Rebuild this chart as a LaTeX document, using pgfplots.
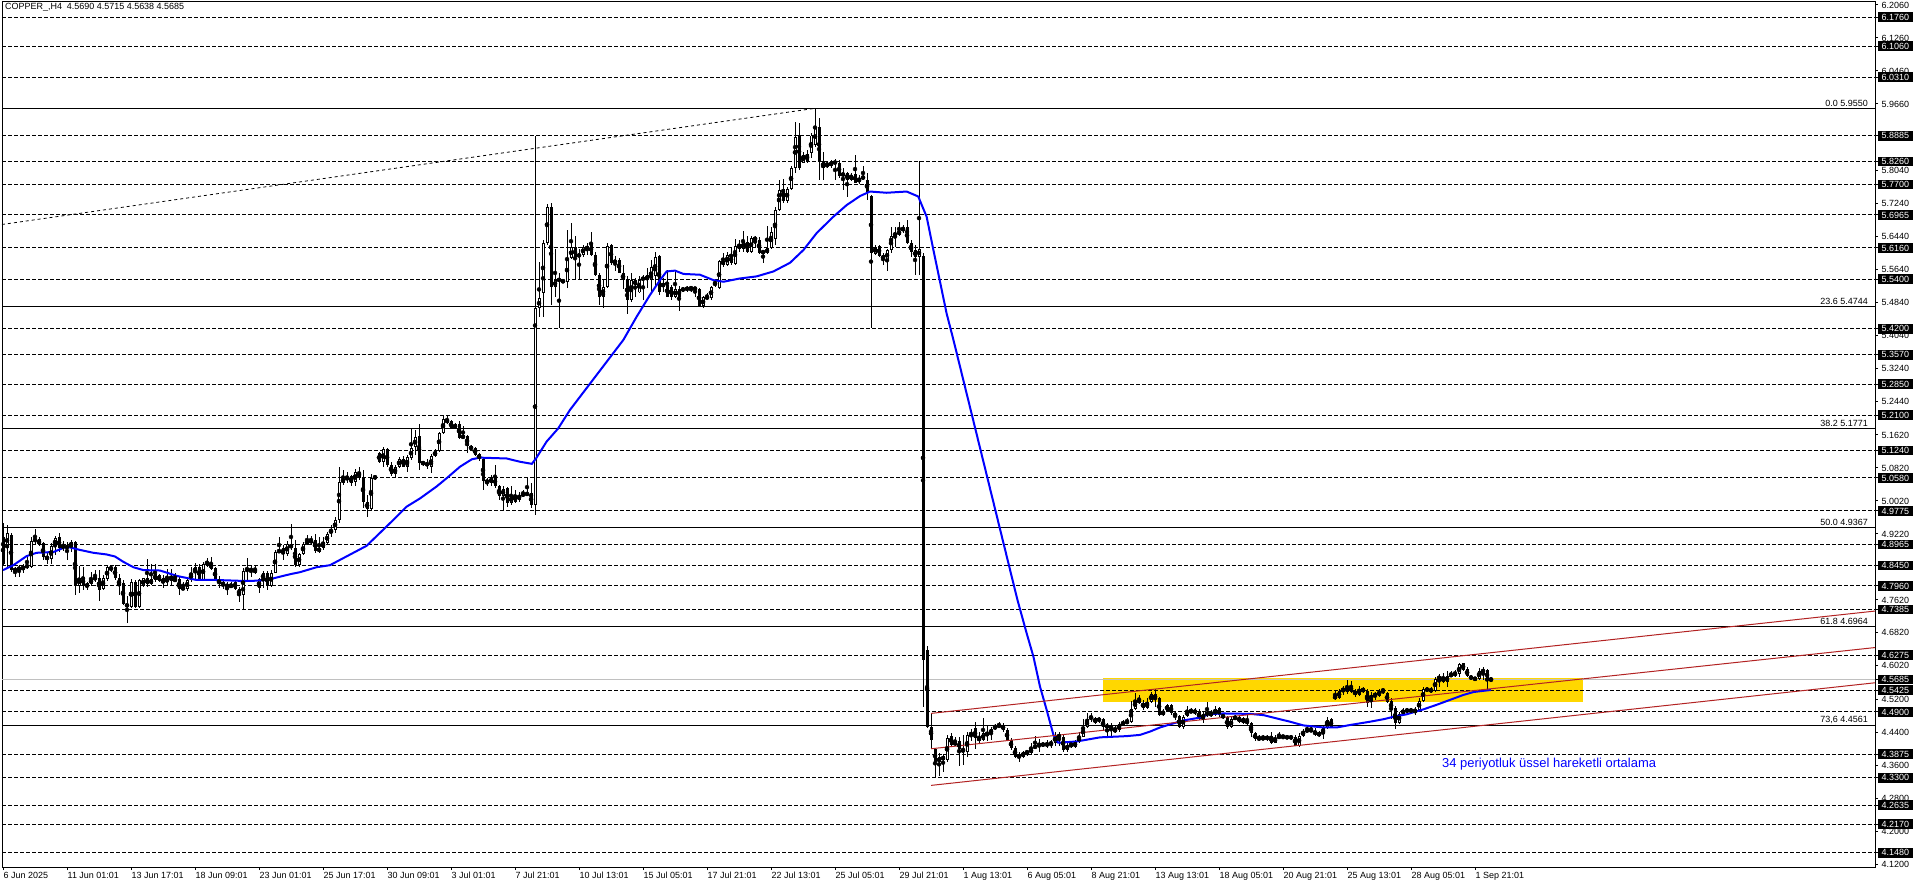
\documentclass[border=0pt]{standalone}
\usepackage{fontspec}
\setmainfont{Liberation Sans}
\usepackage{pgfplots}
\usepackage{pgfplotstable}
\pgfplotsset{compat=1.18}
\definecolor{gold}{RGB}{255,215,0}
\definecolor{chan}{RGB}{178,34,34}
\definecolor{bidgray}{RGB}{192,192,192}
\newcommand\tf{\fontsize{9}{10}\selectfont}
\pgfplotstableread{
i o h l c
0 4.915 4.948 4.846 4.850
1 4.887 4.943 4.841 4.925
2 4.919 4.923 4.830 4.834
3 4.836 4.841 4.818 4.833
4 4.834 4.846 4.818 4.841
5 4.834 4.850 4.828 4.844
6 4.841 4.871 4.836 4.846
7 4.841 4.914 4.838 4.905
8 4.905 4.935 4.895 4.909
9 4.909 4.914 4.893 4.895
10 4.899 4.903 4.858 4.865
11 4.865 4.879 4.849 4.862
12 4.860 4.899 4.849 4.893
13 4.893 4.917 4.871 4.911
14 4.914 4.923 4.879 4.887
15 4.887 4.905 4.881 4.895
16 4.887 4.903 4.858 4.893
17 4.891 4.907 4.879 4.902
18 4.902 4.905 4.774 4.795
19 4.795 4.844 4.778 4.816
20 4.818 4.842 4.786 4.795
21 4.792 4.806 4.786 4.802
22 4.800 4.830 4.795 4.813
23 4.810 4.834 4.806 4.818
24 4.816 4.834 4.760 4.786
25 4.787 4.822 4.786 4.815
26 4.812 4.846 4.808 4.841
27 4.836 4.844 4.830 4.841
28 4.842 4.846 4.810 4.814
29 4.814 4.825 4.774 4.795
30 4.802 4.810 4.749 4.752
31 4.752 4.770 4.705 4.745
32 4.744 4.812 4.741 4.806
33 4.806 4.810 4.743 4.745
34 4.745 4.812 4.741 4.810
35 4.795 4.816 4.792 4.814
36 4.814 4.860 4.794 4.800
37 4.800 4.850 4.798 4.812
38 4.810 4.849 4.806 4.824
39 4.822 4.825 4.804 4.808
40 4.814 4.822 4.790 4.802
41 4.810 4.836 4.795 4.808
42 4.808 4.836 4.795 4.820
43 4.808 4.826 4.806 4.812
44 4.812 4.818 4.774 4.787
45 4.791 4.806 4.786 4.788
46 4.787 4.816 4.784 4.810
47 4.810 4.841 4.806 4.828
48 4.828 4.852 4.810 4.841
49 4.842 4.850 4.808 4.810
50 4.810 4.854 4.808 4.850
51 4.849 4.863 4.841 4.852
52 4.852 4.865 4.834 4.836
53 4.838 4.841 4.808 4.810
54 4.812 4.820 4.790 4.800
55 4.806 4.810 4.787 4.795
56 4.798 4.806 4.774 4.794
57 4.792 4.804 4.790 4.799
58 4.806 4.810 4.786 4.787
59 4.787 4.794 4.757 4.774
60 4.774 4.838 4.737 4.833
61 4.833 4.863 4.810 4.836
62 4.836 4.846 4.818 4.833
63 4.836 4.846 4.825 4.828
64 4.790 4.816 4.779 4.812
65 4.810 4.833 4.790 4.828
66 4.828 4.833 4.786 4.795
67 4.795 4.834 4.792 4.828
68 4.828 4.883 4.826 4.879
69 4.879 4.914 4.876 4.881
70 4.887 4.895 4.858 4.873
71 4.873 4.905 4.868 4.897
72 4.887 4.946 4.883 4.897
73 4.887 4.907 4.841 4.846
74 4.846 4.876 4.841 4.873
75 4.873 4.903 4.871 4.897
76 4.897 4.919 4.895 4.905
77 4.901 4.917 4.897 4.907
78 4.907 4.922 4.876 4.881
79 4.879 4.914 4.875 4.888
80 4.887 4.914 4.883 4.902
81 4.901 4.927 4.895 4.922
82 4.923 4.944 4.915 4.932
83 4.932 4.964 4.923 4.956
84 4.956 5.085 4.948 5.047
85 5.046 5.077 5.041 5.056
86 5.053 5.073 5.045 5.061
87 5.063 5.065 5.038 5.046
88 5.049 5.079 5.037 5.073
89 5.073 5.085 5.053 5.057
90 5.057 5.077 4.984 5.000
91 5.000 5.016 4.964 4.982
92 4.982 5.067 4.980 5.058
93 5.058 5.065 5.053 5.061
94 5.118 5.122 5.093 5.097
95 5.097 5.134 5.085 5.127
96 5.127 5.130 5.085 5.089
97 5.089 5.097 5.063 5.067
98 5.067 5.089 5.057 5.084
99 5.085 5.108 5.081 5.103
100 5.105 5.111 5.084 5.085
101 5.085 5.114 5.071 5.108
102 5.105 5.178 5.101 5.131
103 5.132 5.174 5.114 5.158
104 5.160 5.189 5.076 5.095
105 5.095 5.100 5.087 5.093
106 5.095 5.103 5.079 5.087
107 5.085 5.116 5.071 5.110
108 5.110 5.127 5.108 5.123
109 5.124 5.170 5.122 5.166
110 5.166 5.207 5.165 5.201
111 5.200 5.208 5.189 5.192
112 5.195 5.199 5.176 5.178
113 5.178 5.192 5.176 5.188
114 5.189 5.195 5.152 5.154
115 5.154 5.184 5.152 5.161
116 5.160 5.162 5.118 5.135
117 5.135 5.138 5.124 5.127
118 5.130 5.134 5.111 5.114
119 5.116 5.119 5.100 5.103
120 5.103 5.105 5.029 5.051
121 5.053 5.057 5.037 5.045
122 5.045 5.065 5.037 5.059
123 5.061 5.089 5.033 5.037
124 5.037 5.041 5.003 5.014
125 5.014 5.037 4.978 5.032
126 5.033 5.037 4.988 4.996
127 4.996 5.037 4.992 5.015
128 5.016 5.029 4.998 5.000
129 5.004 5.024 5.000 5.016
130 5.016 5.029 5.012 5.018
131 5.018 5.057 5.014 5.020
132 5.020 5.045 4.986 4.992
133 4.992 5.888 4.968 5.470
134 5.470 5.583 5.448 5.494
135 5.506 5.636 5.449 5.629
136 5.629 5.723 5.623 5.715
137 5.715 5.726 5.478 5.521
138 5.521 5.613 5.498 5.538
139 5.540 5.555 5.421 5.537
140 5.537 5.540 5.530 5.534
141 5.534 5.660 5.518 5.591
142 5.591 5.676 5.589 5.618
143 5.619 5.644 5.538 5.593
144 5.597 5.613 5.538 5.599
145 5.599 5.623 5.595 5.619
146 5.611 5.627 5.599 5.621
147 5.627 5.656 5.597 5.599
148 5.599 5.607 5.547 5.551
149 5.551 5.555 5.478 5.498
150 5.498 5.538 5.470 5.522
151 5.522 5.627 5.518 5.622
152 5.623 5.626 5.575 5.579
153 5.587 5.597 5.559 5.579
154 5.587 5.591 5.555 5.556
155 5.556 5.575 5.516 5.538
156 5.538 5.547 5.456 5.490
157 5.490 5.555 5.486 5.538
158 5.526 5.542 5.498 5.538
159 5.508 5.547 5.506 5.538
160 5.538 5.551 5.490 5.545
161 5.538 5.567 5.518 5.550
162 5.538 5.587 5.506 5.569
163 5.547 5.607 5.522 5.595
164 5.597 5.599 5.502 5.508
165 5.522 5.542 5.510 5.530
166 5.526 5.563 5.496 5.498
167 5.522 5.526 5.490 5.498
168 5.498 5.563 5.494 5.516
169 5.516 5.524 5.462 5.498
170 5.514 5.522 5.508 5.517
171 5.516 5.524 5.510 5.518
172 5.517 5.524 5.508 5.520
173 5.518 5.522 5.498 5.517
174 5.516 5.518 5.472 5.474
175 5.474 5.500 5.470 5.496
176 5.494 5.506 5.491 5.497
177 5.494 5.524 5.491 5.521
178 5.526 5.540 5.522 5.532
179 5.518 5.587 5.516 5.584
180 5.585 5.605 5.571 5.575
181 5.575 5.607 5.572 5.598
182 5.598 5.619 5.575 5.579
183 5.577 5.637 5.575 5.622
184 5.626 5.636 5.607 5.613
185 5.613 5.658 5.607 5.631
186 5.631 5.644 5.605 5.607
187 5.607 5.645 5.603 5.640
188 5.640 5.644 5.619 5.637
189 5.636 5.642 5.602 5.605
190 5.605 5.611 5.579 5.607
191 5.603 5.670 5.602 5.615
192 5.615 5.668 5.613 5.656
193 5.637 5.715 5.623 5.707
194 5.708 5.781 5.707 5.757
195 5.759 5.783 5.725 5.731
196 5.729 5.763 5.725 5.760
197 5.759 5.814 5.757 5.809
198 5.810 5.923 5.799 5.886
199 5.890 5.919 5.805 5.810
200 5.823 5.850 5.822 5.841
201 5.826 5.854 5.823 5.844
202 5.846 5.894 5.834 5.889
203 5.866 5.955 5.862 5.907
204 5.909 5.931 5.781 5.826
205 5.826 5.850 5.780 5.810
206 5.812 5.828 5.810 5.822
207 5.826 5.830 5.810 5.814
208 5.820 5.831 5.780 5.827
209 5.822 5.830 5.785 5.791
210 5.793 5.810 5.757 5.796
211 5.797 5.801 5.741 5.781
212 5.781 5.799 5.779 5.794
213 5.796 5.842 5.773 5.775
214 5.775 5.793 5.771 5.786
215 5.786 5.815 5.781 5.788
216 5.781 5.797 5.733 5.753
217 5.741 5.745 5.421 5.603
218 5.602 5.623 5.599 5.619
219 5.621 5.623 5.595 5.597
220 5.599 5.603 5.575 5.587
221 5.587 5.613 5.559 5.610
222 5.610 5.668 5.603 5.646
223 5.648 5.668 5.619 5.650
224 5.648 5.680 5.644 5.658
225 5.660 5.672 5.653 5.663
226 5.666 5.684 5.626 5.627
227 5.629 5.636 5.595 5.607
228 5.610 5.623 5.551 5.595
229 5.595 5.826 5.551 5.613
230 5.597 5.603 4.501 4.616
231 4.639 4.650 4.450 4.452
232 4.454 4.486 4.399 4.422
233 4.399 4.401 4.329 4.367
234 4.367 4.391 4.334 4.380
235 4.372 4.388 4.345 4.383
236 4.372 4.434 4.369 4.426
237 4.431 4.438 4.406 4.410
238 4.410 4.430 4.406 4.417
239 4.419 4.430 4.359 4.399
240 4.399 4.434 4.361 4.393
241 4.393 4.440 4.381 4.434
242 4.434 4.448 4.418 4.438
243 4.450 4.466 4.399 4.426
244 4.428 4.442 4.412 4.420
245 4.422 4.474 4.418 4.438
246 4.436 4.456 4.418 4.435
247 4.436 4.454 4.422 4.449
248 4.449 4.461 4.446 4.455
249 4.455 4.466 4.450 4.457
250 4.458 4.464 4.442 4.446
251 4.446 4.450 4.418 4.420
252 4.422 4.426 4.397 4.401
253 4.402 4.406 4.378 4.381
254 4.388 4.393 4.369 4.377
255 4.380 4.396 4.377 4.392
256 4.391 4.397 4.383 4.393
257 4.389 4.414 4.388 4.402
258 4.402 4.431 4.399 4.408
259 4.409 4.423 4.393 4.411
260 4.411 4.415 4.406 4.410
261 4.407 4.422 4.401 4.414
262 4.413 4.422 4.401 4.414
263 4.414 4.442 4.406 4.432
264 4.434 4.442 4.406 4.428
265 4.430 4.434 4.393 4.397
266 4.397 4.415 4.393 4.410
267 4.414 4.420 4.401 4.404
268 4.404 4.422 4.401 4.417
269 4.417 4.442 4.414 4.430
270 4.430 4.472 4.428 4.452
271 4.452 4.486 4.450 4.473
272 4.472 4.488 4.466 4.479
273 4.474 4.478 4.461 4.464
274 4.470 4.477 4.464 4.472
275 4.472 4.474 4.444 4.452
276 4.457 4.464 4.426 4.452
277 4.457 4.464 4.431 4.448
278 4.450 4.458 4.438 4.440
279 4.446 4.466 4.442 4.460
280 4.461 4.469 4.456 4.463
281 4.462 4.474 4.461 4.468
282 4.466 4.517 4.464 4.498
283 4.496 4.535 4.495 4.519
284 4.520 4.531 4.509 4.512
285 4.512 4.519 4.495 4.499
286 4.499 4.523 4.496 4.514
287 4.515 4.539 4.512 4.533
288 4.533 4.545 4.501 4.520
289 4.523 4.527 4.480 4.482
290 4.482 4.496 4.480 4.492
291 4.493 4.509 4.490 4.506
292 4.506 4.509 4.482 4.488
293 4.488 4.490 4.470 4.478
294 4.480 4.482 4.450 4.452
295 4.452 4.482 4.448 4.478
296 4.480 4.503 4.478 4.492
297 4.490 4.499 4.486 4.492
298 4.491 4.499 4.482 4.490
299 4.492 4.496 4.469 4.472
300 4.472 4.490 4.462 4.485
301 4.485 4.515 4.478 4.486
302 4.482 4.495 4.478 4.486
303 4.482 4.503 4.480 4.498
304 4.499 4.501 4.478 4.482
305 4.482 4.486 4.472 4.477
306 4.477 4.480 4.448 4.452
307 4.452 4.477 4.450 4.473
308 4.474 4.482 4.470 4.476
309 4.477 4.482 4.462 4.466
310 4.474 4.478 4.461 4.464
311 4.469 4.482 4.458 4.462
312 4.464 4.466 4.428 4.438
313 4.438 4.442 4.420 4.423
314 4.426 4.434 4.420 4.424
315 4.423 4.434 4.422 4.428
316 4.423 4.434 4.420 4.430
317 4.431 4.442 4.412 4.415
318 4.415 4.434 4.414 4.427
319 4.427 4.442 4.423 4.431
320 4.431 4.434 4.423 4.429
321 4.429 4.434 4.423 4.427
322 4.427 4.434 4.422 4.429
323 4.430 4.434 4.406 4.407
324 4.407 4.438 4.404 4.432
325 4.432 4.448 4.430 4.443
326 4.443 4.454 4.442 4.446
327 4.446 4.454 4.441 4.444
328 4.444 4.450 4.431 4.434
329 4.440 4.444 4.428 4.431
330 4.436 4.456 4.423 4.451
331 4.451 4.478 4.449 4.469
332 4.472 4.474 4.451 4.452
333 4.531 4.543 4.519 4.520
334 4.523 4.545 4.520 4.541
335 4.539 4.553 4.531 4.548
336 4.537 4.567 4.533 4.551
337 4.553 4.566 4.535 4.539
338 4.541 4.545 4.527 4.531
339 4.531 4.553 4.529 4.546
340 4.547 4.550 4.535 4.539
341 4.541 4.545 4.501 4.511
342 4.519 4.537 4.499 4.532
343 4.532 4.539 4.519 4.530
344 4.529 4.545 4.525 4.541
345 4.541 4.546 4.533 4.543
346 4.535 4.537 4.512 4.515
347 4.517 4.523 4.472 4.495
348 4.499 4.503 4.448 4.464
349 4.464 4.490 4.461 4.485
350 4.485 4.499 4.482 4.495
351 4.495 4.499 4.486 4.492
352 4.492 4.499 4.488 4.494
353 4.490 4.501 4.482 4.495
354 4.495 4.523 4.490 4.517
355 4.517 4.550 4.515 4.546
356 4.547 4.551 4.537 4.541
357 4.543 4.550 4.535 4.541
358 4.541 4.575 4.539 4.570
359 4.571 4.582 4.550 4.574
360 4.574 4.585 4.559 4.563
361 4.563 4.588 4.550 4.578
362 4.578 4.588 4.574 4.580
363 4.579 4.592 4.575 4.584
364 4.582 4.609 4.574 4.605
365 4.608 4.609 4.588 4.592
366 4.593 4.598 4.574 4.577
367 4.575 4.580 4.567 4.571
368 4.569 4.575 4.566 4.571
369 4.569 4.596 4.567 4.590
370 4.590 4.598 4.567 4.588
371 4.592 4.594 4.543 4.567
372 4.5690 4.5715 4.5638 4.5685
}\candles
\begin{document}
\begin{tikzpicture}
\useasboundingbox (-2bp,-21bp) rectangle (1914bp,867bp);
\begin{axis}[
  at={(0,0)}, anchor=south west,
  scale only axis, width=1873bp, height=865bp,
  xmin=-0.25, xmax=468, ymin=4.1133, ymax=6.2131,
  clip=false,
  axis line style={line width=1bp, black},
  tick style={black, line width=1bp},
  tick align=outside, major tick length=3bp,
  xtick pos=left, ytick pos=right, yticklabel pos=right,
  xtick={0,16,...,368},
  xticklabels={6 Jun 2025,11 Jun 01:01,13 Jun 17:01,18 Jun 09:01,23 Jun 01:01,25 Jun 17:01,30 Jun 09:01,3 Jul 01:01,7 Jul 21:01,10 Jul 13:01,15 Jul 05:01,17 Jul 21:01,22 Jul 13:01,25 Jul 05:01,29 Jul 21:01,1 Aug 13:01,6 Aug 05:01,8 Aug 21:01,13 Aug 13:01,18 Aug 05:01,20 Aug 21:01,25 Aug 13:01,28 Aug 05:01,1 Sep 21:01},
  xticklabel style={font=\tf, anchor=north west, inner sep=0pt, text height=6.5bp, text depth=1.8bp, xshift=0.5bp, yshift=-2bp},
  ytick={6.206,6.126,6.046,5.966,5.804,5.724,5.644,5.564,5.484,5.404,5.324,5.244,5.162,5.082,5.002,4.922,4.762,4.682,4.602,4.52,4.44,4.36,4.28,4.2,4.12},
  yticklabels={6.2060,6.1260,6.0460,5.9660,5.8040,5.7240,5.6440,5.5640,5.4840,5.4040,5.3240,5.2440,5.1620,5.0820,5.0020,4.9220,4.7620,4.6820,4.6020,4.5200,4.4400,4.3600,4.2800,4.2000,4.1200},
  yticklabel style={font=\tf, anchor=west, inner sep=0pt, text height=6.5bp, text depth=0pt, xshift=3.5bp},
  extra y ticks={6.176,6.106,6.031,5.8885,5.826,5.77,5.6965,5.616,5.54,5.42,5.357,5.285,5.21,5.124,5.058,4.9775,4.8965,4.845,4.796,4.7385,4.6275,4.5685,4.5425,4.49,4.3875,4.33,4.2635,4.217,4.148},
  extra y tick labels={6.1760,6.1060,6.0310,5.8885,5.8260,5.7700,5.6965,5.6160,5.5400,5.4200,5.3570,5.2850,5.2100,5.1240,5.0580,4.9775,4.8965,4.8450,4.7960,4.7385,4.6275,4.5685,4.5425,4.4900,4.3875,4.3300,4.2635,4.2170,4.1480},
  extra y tick style={grid=none, yticklabel style={fill=black, text=white, inner xsep=4bp, inner ysep=1.6bp, xshift=-4bp}},
]
% support/resistance zone
\addplot[draw=none, fill=gold, forget plot] coordinates {(275,4.5144) (395,4.5144) (395,4.572) (275,4.572)} -- cycle;
% dashed horizontal levels
\pgfplotsinvokeforeach{6.176,6.106,6.031,5.8885,5.826,5.77,5.6965,5.616,5.54,5.42,5.357,5.285,5.21,5.124,5.058,4.9775,4.8965,4.845,4.796,4.7385,4.6275,4.5425,4.49,4.3875,4.33,4.2635,4.217,4.148}{
  \addplot[black, line width=1bp, dash pattern=on 4bp off 2bp, forget plot] coordinates {(-0.25,#1) (468,#1)};
}
% fibonacci levels
\pgfplotsinvokeforeach{5.955,5.4744,5.1771,4.9367,4.6964,4.4561}{
  \addplot[black, line width=1bp, forget plot] coordinates {(-0.25,#1) (468,#1)};
}
\addplot[black, line width=0.8bp, dash pattern=on 3bp off 3bp, forget plot] coordinates {(-0.25,5.673) (203,5.955)};
% bid line
\addplot[bidgray, line width=1bp, forget plot] coordinates {(-0.25,4.5685) (468,4.5685)};
% candles: wicks
\addplot[only marks, mark=none, forget plot, error bars/.cd, y dir=both, y explicit, error mark=none, error bar style={black, line width=1bp}]
  table[x=i, y expr={(\thisrow{h}+\thisrow{l})/2}, y error expr={(\thisrow{h}-\thisrow{l})/2}] {\candles};
% candles: bodies
\addplot[only marks, mark=none, forget plot, error bars/.cd, y dir=both, y explicit, error mark=none, error bar style={black, line width=3bp}]
  table[x=i, y expr={(\thisrow{o}+\thisrow{c})/2}, y error expr={max(abs(\thisrow{c}-\thisrow{o})/2,0.0012)}] {\candles};
% candles: hollow bull bodies
\addplot[only marks, mark=none, forget plot, error bars/.cd, y dir=both, y explicit, error mark=none, error bar style={white, line width=1bp}]
  table[x=i, y expr={(\thisrow{o}+\thisrow{c})/2}, y error expr={(\thisrow{c}>\thisrow{o})*max((\thisrow{c}-\thisrow{o})/2-0.0024,0)}] {\candles};
% 34 EMA
\addplot[blue, line width=2bp, forget plot] coordinates {
(0,4.834) (2.6,4.846) (5.9,4.868) (8.4,4.876) (12.6,4.878) (15.9,4.891) (17.2,4.888) (19.25,4.883) (22.6,4.876) (25.9,4.872) (28,4.867) (30.1,4.854) (32.6,4.841) (35.1,4.834) (39.25,4.833) (40.9,4.828) (43.4,4.820) (45.9,4.815) (48.4,4.810) (53.4,4.810) (59.25,4.808) (62.6,4.808) (65.9,4.810) (68.4,4.816) (71.75,4.824) (74.25,4.829) (78.4,4.841) (81.75,4.846) (90.9,4.893) (97.6,4.956) (100.9,4.988) (104.25,5.008) (108.4,5.037) (110.9,5.057) (114.25,5.085) (117.2,5.103) (119.25,5.107) (125.9,5.105) (129.25,5.097) (132.2,5.092) (133.25,5.105) (135.9,5.146) (138.8,5.178) (141.75,5.223) (155.1,5.393) (158.4,5.449) (161.75,5.502) (164.25,5.538) (165.9,5.559) (168,5.561) (170.1,5.553) (174.25,5.551) (177.6,5.538) (180.1,5.534) (184.25,5.542) (188.4,5.547) (192.6,5.559) (196.75,5.580) (200.1,5.611) (203.4,5.652) (207.6,5.692) (210.9,5.720) (214.25,5.742) (216.75,5.753) (220.9,5.750) (225.9,5.753) (228.8,5.741) (230.9,5.692) (232.6,5.611) (234.25,5.534) (235.9,5.457) (237.6,5.393) (253.6,4.762) (255.9,4.681) (257.6,4.624) (259.25,4.551) (260.9,4.495) (262.6,4.434) (263.8,4.415) (268.4,4.418) (274.25,4.428) (280.9,4.431) (284.25,4.434) (286.75,4.442) (289.25,4.452) (292.6,4.462) (295.1,4.469) (299.25,4.476) (301.75,4.485) (305.1,4.486) (311.75,4.485) (315.1,4.482) (318.4,4.474) (321.75,4.466) (325.1,4.457) (330.1,4.452) (333.4,4.452) (336.75,4.458) (341.75,4.466) (345.1,4.472) (347.6,4.478) (350.9,4.484) (355.1,4.496) (358.4,4.507) (361.75,4.519) (365.1,4.531) (367.6,4.538) (370.1,4.541) (372,4.543)};
% channel lines
\addplot[chan, line width=1bp, forget plot] coordinates {(232,4.4862) (468,4.7346)};
\addplot[chan, line width=1bp, forget plot] coordinates {(232,4.4003) (468,4.6460)};
\addplot[chan, line width=1bp, forget plot] coordinates {(232,4.3114) (468,4.5605)};
% labels
\node[anchor=north west, inner sep=0pt, font=\tf] at (rel axis cs:0,1) [xshift=3bp, yshift=-1.5bp] {COPPER\_,H4\ \ 4.5690 4.5715 4.5638 4.5685};
\node[anchor=south east, inner sep=0pt, font=\tf] at (axis cs:466.25,5.955) [yshift=2bp] {0.0 5.9550};
\node[anchor=south east, inner sep=0pt, font=\tf] at (axis cs:466.25,5.4744) [yshift=2bp] {23.6 5.4744};
\node[anchor=south east, inner sep=0pt, font=\tf] at (axis cs:466.25,5.1771) [yshift=2bp] {38.2 5.1771};
\node[anchor=south east, inner sep=0pt, font=\tf] at (axis cs:466.25,4.9367) [yshift=2bp] {50.0 4.9367};
\node[anchor=south east, inner sep=0pt, font=\tf] at (axis cs:466.25,4.6964) [yshift=2bp] {61.8 4.6964};
\node[anchor=south east, inner sep=0pt, font=\tf] at (axis cs:466.25,4.4561) [yshift=2bp] {73,6 4.4561};
\node[anchor=base west, inner sep=0pt, text=blue, font=\fontsize{13}{15}\selectfont] at (axis cs:359.75,4.354) {34 periyotluk üssel hareketli ortalama};
\end{axis}
\end{tikzpicture}
\end{document}
